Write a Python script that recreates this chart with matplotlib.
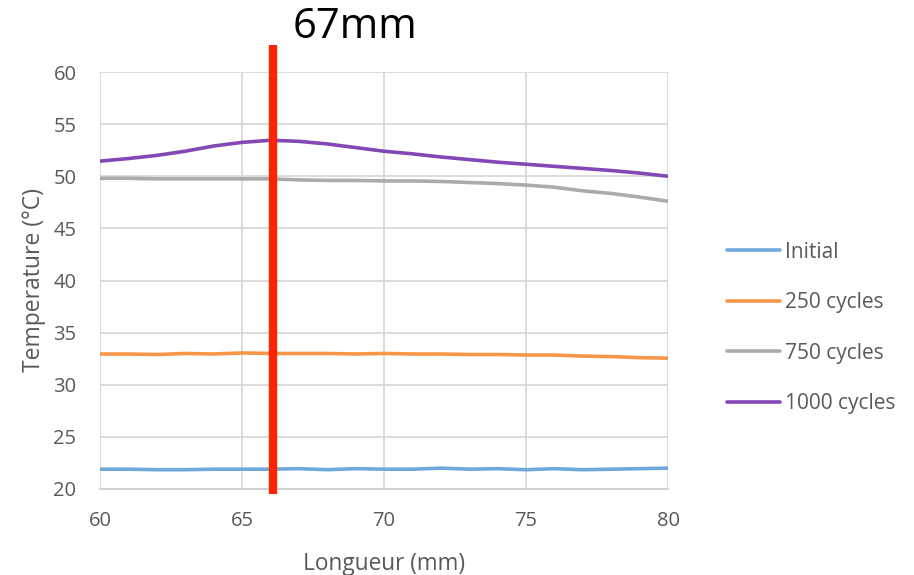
import matplotlib
matplotlib.use("Agg")
import matplotlib.pyplot as plt

x_mm = [60, 61, 62, 63, 64, 65, 66, 67, 68, 69, 70, 71, 72, 73, 74, 75, 76, 77, 78, 79, 80]
initial = [21.9, 21.9, 21.85, 21.85, 21.9, 21.9, 21.9, 21.95, 21.85, 21.95, 21.9, 21.9, 22.0, 21.9, 21.95, 21.85, 21.95, 21.85, 21.9, 21.95, 22.0]
c250 = [32.95, 32.95, 32.9, 33.0, 32.95, 33.05, 33.0, 33.0, 33.0, 32.95, 33.0, 32.95, 32.95, 32.9, 32.9, 32.85, 32.85, 32.75, 32.7, 32.6, 32.55]
c750 = [49.8, 49.8, 49.75, 49.75, 49.75, 49.75, 49.75, 49.65, 49.6, 49.6, 49.55, 49.55, 49.5, 49.4, 49.3, 49.15, 48.95, 48.6, 48.35, 48.0, 47.6]
c1000 = [51.45, 51.7, 52.0, 52.4, 52.9, 53.25, 53.45, 53.35, 53.1, 52.75, 52.4, 52.15, 51.85, 51.6, 51.35, 51.15, 50.95, 50.75, 50.55, 50.3, 50.0]
series_labels = ["Initial", "250 cycles", "750 cycles", "1000 cycles"]
marker_x = 66.1
marker_text = "67mm"

colors = ["#6FA8DC", "#F79646", "#ABABAB", "#8348B5"]

plt.rcParams['font.family'] = ['Open Sans', 'DejaVu Sans']
fig = plt.figure(figsize=(9.14, 5.75), dpi=100)
ax = fig.add_axes([100/914, 1-489/575, 568/914, 417/575])

for ys, lab, col in zip([initial, c250, c750, c1000], series_labels, colors):
    ax.plot(x_mm, ys, color=col, lw=2.6, label=lab, solid_capstyle='round')

ax.set_xlim(60, 80)
ax.set_ylim(20, 60)
ax.set_xticks(range(60, 81, 5))
ax.set_yticks(range(20, 61, 5))
ax.grid(True, color="#D9D9D9", lw=1.3)
ax.set_axisbelow(True)
for s in ['top', 'right', 'left']:
    ax.spines[s].set_visible(False)
ax.spines['bottom'].set_color("#D0D0D0")
ax.spines['bottom'].set_linewidth(1.3)
ax.tick_params(axis='both', length=0, labelsize=14.5, colors="#595959")
ax.tick_params(axis='x', pad=16)
ax.tick_params(axis='y', pad=17)
ax.set_xlabel("Longueur (mm)", fontsize=16.3, color="#595959", labelpad=15)
ax.set_ylabel("Temperature (°C)", fontsize=16.5, color="#595959", labelpad=5)

ax.plot([marker_x, marker_x], [19.5, 62.6], color="#FF2200", lw=6, clip_on=False, zorder=5, solid_capstyle='butt')
fig.text(355/914, 1-27/575, marker_text, fontsize=30, color="black", ha='center', va='center')

leg = fig.legend(loc='center left', bbox_to_anchor=(727/914, 1-328/575), frameon=False,
                 fontsize=15, labelspacing=1.42, handlelength=2.55, handletextpad=0.25,
                 borderpad=0, borderaxespad=0)
for t in leg.get_texts():
    t.set_color("#595959")

fig.savefig("out.png", dpi=100)
